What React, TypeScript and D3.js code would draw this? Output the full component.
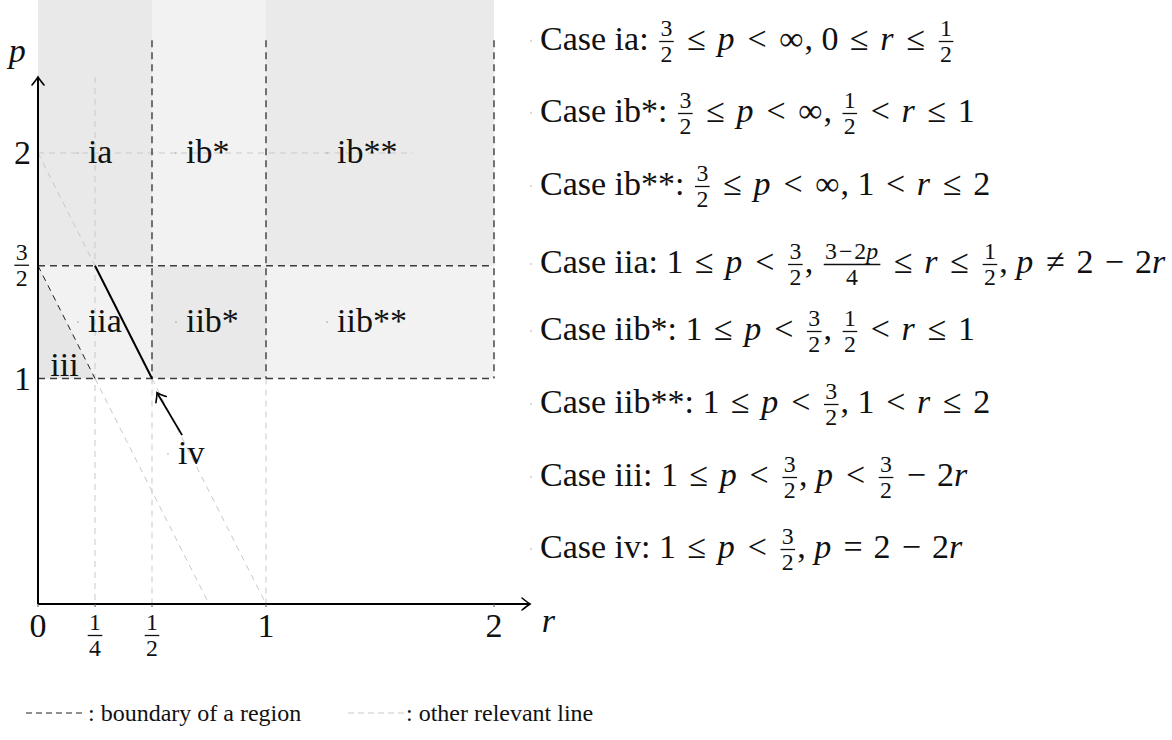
import React, { useEffect, useRef } from 'react';
import * as d3 from 'd3';

const W = 1172;
const H = 740;
const FONT = '"Liberation Serif", "DejaVu Serif", serif';
const FS = 34;
const LEGEND_FS = 24;

// axis ticks (fractions written as {num/den})
const rTicks = [0, 0.25, 0.5, 1, 2];
const rTickLabels = ['0', '{1/4}', '{1/2}', '1', '2'];
const pTicks = [2, 1.5, 1];
const pTickLabels = ['2', '{3/2}', '1'];

// shaded regions
const regionR = [[0, 0.5], [0.5, 1], [1, 2], [0, 0.5], [0.5, 1], [1, 2]];
const regionP = [[1.5, Infinity], [1.5, Infinity], [1.5, Infinity], [1, 1.5], [1, 1.5], [1, 1.5]];
const regionFill = ['#e9e9e9', '#f2f2f2', '#eaeaea', '#f2f2f2', '#e9e9e9', '#f2f2f2'];
const regionIII = [[0, 1.5], [0, 1], [0.25, 1]];

// region labels, anchored at a point, text to its right
const labelNames = ['ia', 'ib*', 'ib**', 'iia', 'iib*', 'iib**', 'iii', 'iv'];
const labelR = [0.175, 0.605, 1.268, 0.175, 0.605, 1.268, 0.01, 0.57];
const labelP = [2, 2, 2, 1.25, 1.25, 1.25, 1.055, 0.665];

// lines [[r,p],[r,p]]
const boundaryLines = [
  [[0, 1.5], [2, 1.5]],
  [[0, 1], [2, 1]],
  [[0.5, 2.5], [0.5, 1]],
  [[1, 2.5], [1, 1]],
  [[2, 2.5], [2, 1]],
];
const boundaryDiag = [[0, 1.5], [0.25, 1]];
const otherLines = [
  [[0, 2], [1.645, 2]],
  [[0.25, 2.337], [0.25, 0]],
  [[0.5, 1], [0.5, 0]],
  [[1, 1], [1, 0]],
  [[0, 2], [0.25, 1.5]],
  [[0.5, 1], [1, 0]],
  [[0.25, 1], [0.75, 0]],
];
const caseIVLine = [[0.25, 1.5], [0.5, 1]];
const ivArrow = [[0.632, 0.749], [0.522, 0.937]];

const rAxisEnd = 2.158;
const pAxisEnd = 2.337;

// case list on the right
const caseTexts = [
  'Case ia: {3/2} ≤ p < ∞, 0 ≤ r ≤ {1/2}',
  'Case ib*: {3/2} ≤ p < ∞, {1/2} < r ≤ 1',
  'Case ib**: {3/2} ≤ p < ∞, 1 < r ≤ 2',
  'Case iia: 1 ≤ p < {3/2}, {3−2p/4} ≤ r ≤ {1/2}, p ≠ 2 − 2r',
  'Case iib*: 1 ≤ p < {3/2}, {1/2} < r ≤ 1',
  'Case iib**: 1 ≤ p < {3/2}, 1 < r ≤ 2',
  'Case iii: 1 ≤ p < {3/2}, p < {3/2} − 2r',
  'Case iv: 1 ≤ p < {3/2}, p = 2 − 2r',
];
const caseBaselines = [50, 122, 195, 273, 340, 413, 486, 558];

type Tok = { kind: 'txt'; s: string } | { kind: 'frac'; n: string; d: string };

function parseMath(str: string): Tok[] {
  const out: Tok[] = [];
  const re = /\{([^{}\/]+)\/([^{}]+)\}/g;
  let last = 0;
  let m: RegExpExecArray | null;
  while ((m = re.exec(str))) {
    if (m.index > last) out.push({ kind: 'txt', s: str.slice(last, m.index) });
    out.push({ kind: 'frac', n: m[1], d: m[2] });
    last = m.index + m[0].length;
  }
  if (last < str.length) out.push({ kind: 'txt', s: str.slice(last) });
  return out;
}

// relation / operator glyphs are narrower in Times than in CM, pad them
const PAD: Record<string, number> = { '≤': 0.09, '<': 0.09, '=': 0.07, '≠': 0.09, '−': 0.08, '∞': 0.03 };

// plain run, p and r in italics; returns width
function drawRun(g: any, str: string, x: number, y: number, fs: number) {
  let cx = x;
  str.split(/([pr≤<=≠−∞])/).forEach((part, i) => {
    if (!part) return;
    const special = i % 2 === 1;
    const it = special && (part === 'p' || part === 'r');
    const pad = special && PAD[part] ? PAD[part] * fs : 0;
    cx += pad;
    const t = g.append('text')
      .attr('x', cx).attr('y', y)
      .attr('font-size', fs)
      .attr('font-style', it ? 'italic' : 'normal')
      .style('white-space', 'pre')
      .text(part);
    cx += (t.node() as SVGTextElement).getComputedTextLength() + pad;
    if (it) cx += fs * 0.04;
  });
  return cx - x;
}

function drawMath(parent: any, str: string, x: number, y: number, fs: number, anchor = 'start') {
  const g = parent.append('g').attr('font-family', FONT).attr('fill', '#111');
  let cx = 0;
  parseMath(str).forEach(tok => {
    if (tok.kind === 'txt') {
      cx += drawRun(g, tok.s, cx, 0, fs);
    } else {
      const sf = fs * 0.7;
      cx += fs * 0.06;
      const ng = g.append('g');
      const dg = g.append('g');
      const nw = drawRun(ng, tok.n, 0, 0, sf);
      const dw = drawRun(dg, tok.d, 0, 0, sf);
      const w = Math.max(nw, dw) + fs * 0.08;
      ng.attr('transform', `translate(${cx + (w - nw) / 2},${-0.4 * fs})`);
      dg.attr('transform', `translate(${cx + (w - dw) / 2},${0.36 * fs})`);
      g.append('line')
        .attr('x1', cx).attr('x2', cx + w)
        .attr('y1', -0.25 * fs).attr('y2', -0.25 * fs)
        .attr('stroke', '#111').attr('stroke-width', 1.3);
      cx += w + fs * 0.06;
    }
  });
  const dx = anchor === 'middle' ? -cx / 2 : anchor === 'end' ? -cx : 0;
  g.attr('transform', `translate(${x + dx},${y})`);
  return cx;
}

function arrowHead(g: any, x1: number, y1: number, x2: number, y2: number, sw: number) {
  const a = (Math.atan2(y2 - y1, x2 - x1) * 180) / Math.PI;
  g.append('path')
    .attr('d', 'M -8 -6 Q -2.5 -1.5 0 0 Q -2.5 1.5 -8 6')
    .attr('fill', 'none')
    .attr('stroke', '#000')
    .attr('stroke-width', sw)
    .attr('stroke-linecap', 'round')
    .attr('transform', `translate(${x2},${y2}) rotate(${a})`);
}

const App = () => {
  const svgRef = useRef<SVGSVGElement>(null);

  useEffect(() => {
    const svg = d3.select(svgRef.current);
    svg.selectAll('*').remove();

    const x = d3.scaleLinear().domain([0, 2]).range([38, 494]);
    const y = d3.scaleLinear().domain([0, 2]).range([604, 153]);
    const pTop = y.invert(0);

    const line = d3.line<number[]>().x(d => x(d[0])).y(d => y(d[1]));

    // regions
    svg.append('g').selectAll('rect')
      .data(regionR)
      .enter().append('rect')
      .attr('x', d => x(d[0]))
      .attr('width', d => x(d[1]) - x(d[0]))
      .attr('y', (_, i) => y(Math.min(regionP[i][1], pTop)))
      .attr('height', (_, i) => y(regionP[i][0]) - y(Math.min(regionP[i][1], pTop)))
      .attr('fill', (_, i) => regionFill[i]);

    svg.append('path')
      .attr('d', line(regionIII) + 'Z')
      .attr('fill', '#e6e6e6');

    // other relevant lines
    svg.append('g').selectAll('path')
      .data(otherLines)
      .enter().append('path')
      .attr('d', d => line(d as number[][]))
      .attr('fill', 'none')
      .attr('stroke', '#c9c9c9')
      .attr('stroke-width', 1)
      .attr('stroke-dasharray', '6,5');

    // boundaries
    svg.append('g').selectAll('path')
      .data(boundaryLines)
      .enter().append('path')
      .attr('d', d => line(d as number[][]))
      .attr('fill', 'none')
      .attr('stroke', '#3c3c3c')
      .attr('stroke-width', 1.4)
      .attr('stroke-dasharray', '7,5');

    svg.append('path')
      .attr('d', line(boundaryDiag))
      .attr('fill', 'none')
      .attr('stroke', '#222')
      .attr('stroke-width', 1)
      .attr('stroke-dasharray', '6,5');

    svg.append('path')
      .attr('d', line(caseIVLine))
      .attr('fill', 'none')
      .attr('stroke', '#000')
      .attr('stroke-width', 2);

    // iv arrow
    const [a0, a1] = ivArrow;
    svg.append('path')
      .attr('d', line(ivArrow))
      .attr('stroke', '#000')
      .attr('stroke-width', 1.8);
    arrowHead(svg, x(a0[0]), y(a0[1]), x(a1[0]), y(a1[1]), 1.6);

    // axes
    const ax = svg.append('g');
    ax.append('line')
      .attr('x1', x(0)).attr('x2', x(rAxisEnd))
      .attr('y1', y(0)).attr('y2', y(0))
      .attr('stroke', '#000').attr('stroke-width', 2);
    arrowHead(ax, x(0), y(0), x(rAxisEnd), y(0), 1.6);
    ax.append('line')
      .attr('x1', x(0)).attr('x2', x(0))
      .attr('y1', y(0)).attr('y2', y(pAxisEnd))
      .attr('stroke', '#000').attr('stroke-width', 2);
    arrowHead(ax, x(0), y(0), x(0), y(pAxisEnd), 1.6);

    ax.selectAll('.rt')
      .data(rTicks)
      .enter().append('line')
      .attr('x1', d => x(d)).attr('x2', d => x(d))
      .attr('y1', y(0)).attr('y2', y(0) + 3)
      .attr('stroke', '#555').attr('stroke-width', 1);

    rTicks.forEach((t, i) => {
      const isFrac = rTickLabels[i].startsWith('{');
      drawMath(svg, rTickLabels[i], x(t), y(0) + (isFrac ? 40 : 33), FS, 'middle');
    });
    pTicks.forEach((t, i) => {
      const isFrac = pTickLabels[i].startsWith('{');
      drawMath(svg, pTickLabels[i], x(0) - 7, y(t) + (isFrac ? 8 : 11), FS, 'end');
    });

    drawMath(svg, 'p', 18, 62, FS, 'middle');
    drawMath(svg, 'r', 549, 632, FS, 'middle');

    // region labels
    labelNames.forEach((name, i) => {
      const px = x(labelR[i]);
      const py = y(labelP[i]);
      if (name !== 'iii') {
        svg.append('circle').attr('cx', px).attr('cy', py).attr('r', 0.8).attr('fill', '#aaa');
      }
      drawMath(svg, name, px + 10, py + 10, FS);
    });

    // case list
    caseTexts.forEach((txt, i) => {
      svg.append('circle').attr('cx', 531).attr('cy', caseBaselines[i] - 9).attr('r', 0.8).attr('fill', '#aaa');
      drawMath(svg, txt, 540, caseBaselines[i], FS);
    });

    // bottom legend
    const lg = svg.append('g');
    const ly = 713;
    lg.append('line')
      .attr('x1', 26).attr('x2', 86).attr('y1', ly).attr('y2', ly)
      .attr('stroke', '#222').attr('stroke-width', 1.2).attr('stroke-dasharray', '6,4');
    lg.append('text')
      .attr('x', 88).attr('y', ly + 8)
      .attr('font-family', FONT).attr('font-size', LEGEND_FS).attr('fill', '#111')
      .text(': boundary of a region');
    lg.append('line')
      .attr('x1', 348).attr('x2', 405).attr('y1', ly).attr('y2', ly)
      .attr('stroke', '#c9c9c9').attr('stroke-width', 1.2).attr('stroke-dasharray', '6,4');
    lg.append('text')
      .attr('x', 406).attr('y', ly + 8)
      .attr('font-family', FONT).attr('font-size', LEGEND_FS).attr('fill', '#111')
      .text(': other relevant line');
  }, []);

  return (
    <div style={{ position: 'absolute', left: 0, top: 0 }}>
      <svg ref={svgRef} width={W} height={H} style={{ display: 'block', background: '#fff' }} />
    </div>
  );
};

export default App;
